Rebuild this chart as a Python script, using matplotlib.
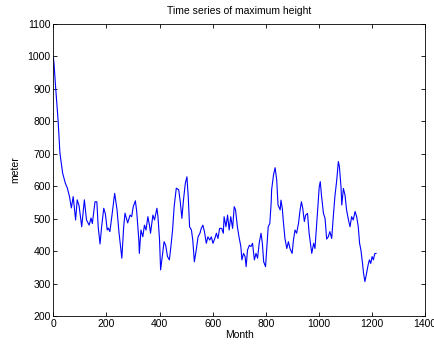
import numpy as np
import matplotlib
matplotlib.use('Agg')
import matplotlib.pyplot as plt

# Valeurs (mois, hauteur en metres)
mois = [0, 3, 9, 18, 25, 35, 45, 53, 61, 68, 75, 84, 90, 97, 107, 117, 125, 135, 142, 147,
        157, 164, 169, 176, 182, 190, 196, 203, 207, 213, 221, 231, 240, 247, 258, 265, 270,
        280, 289, 295, 301, 309, 314, 322, 324, 330, 337, 343, 349, 356, 362, 366, 375, 381,
        390, 394, 400, 404, 410, 417, 423, 430, 437, 444, 449, 455, 463, 472, 478, 484, 490,
        497, 503, 508, 513, 520, 525, 531, 538, 545, 552, 557, 563, 569, 576, 582, 589, 595,
        601, 608, 614, 620, 626, 634, 640, 643, 650, 656, 662, 668, 675, 681, 686, 693, 699,
        706, 710, 716, 722, 726, 731, 738, 744, 750, 757, 763, 769, 775, 782, 787, 792, 799,
        805, 809, 815, 820, 822, 829, 835, 841, 846, 854, 857, 862, 866, 872, 879, 885, 891,
        899, 904, 910, 916, 923, 929, 934, 939, 945, 950, 957, 963, 968, 973, 980, 985, 990,
        996, 1001, 1005, 1010, 1017, 1023, 1029, 1035, 1041, 1048, 1054, 1060, 1067, 1073,
        1077, 1083, 1086, 1092, 1098, 1104, 1111, 1117, 1123, 1129, 1136, 1142, 1148, 1153,
        1158, 1164, 1168, 1173, 1178, 1185, 1190, 1195, 1200, 1205, 1210, 1215]
hauteur = [1000, 975, 902, 804, 702, 641, 610, 594, 568, 533, 568, 496, 558, 540, 475, 558, 496,
           480, 502, 485, 552, 552, 475, 422, 475, 532, 515, 465, 471, 460, 511, 578, 527, 460,
           378, 475, 517, 487, 511, 506, 537, 555, 522, 434, 393, 465, 444, 480, 465, 506, 480,
           455, 511, 496, 532, 506, 434, 342, 383, 429, 418, 383, 373, 424, 465, 537, 594, 589,
           552, 501, 557, 609, 629, 568, 475, 465, 434, 367, 403, 444, 455, 470, 480, 460, 424,
           444, 434, 444, 424, 439, 455, 439, 470, 470, 455, 506, 475, 511, 465, 506, 470, 537,
           527, 475, 444, 414, 373, 393, 383, 352, 403, 418, 414, 424, 373, 393, 378, 424, 455,
           424, 367, 352, 424, 475, 485, 547, 590, 635, 657, 619, 542, 527, 557, 532, 491, 439,
           408, 429, 408, 393, 434, 465, 455, 485, 527, 552, 532, 491, 511, 516, 455, 424, 393,
           424, 408, 465, 537, 598, 614, 568, 516, 501, 437, 444, 460, 439, 506, 568, 619, 676,
           660, 598, 542, 593, 573, 527, 496, 475, 506, 496, 522, 506, 475, 424, 403, 362, 331,
           306, 326, 357, 373, 362, 383, 373, 392, 393]

plt.rcParams['font.family'] = ['Liberation Sans', 'DejaVu Sans']
plt.rcParams['font.size'] = 7.5

fig = plt.figure(figsize=(4.35, 3.49), dpi=100)
ax = fig.add_axes([0.1225, 0.0946, 0.855, 0.8367])
ax.plot(mois, hauteur, color='#0000ff', linewidth=0.8)

ax.set_xlim(0, 1400)
ax.set_ylim(200, 1100)
ax.set_xticks(np.arange(0, 1401, 200))
ax.set_yticks(np.arange(200, 1101, 100))
ax.tick_params(direction='in', top=True, right=True, length=3, width=0.6, pad=2)
for sp in ax.spines.values():
    sp.set_linewidth(0.6)

ax.set_title('Time series of maximum height', fontsize=7.5, pad=7)
ax.set_xlabel('Month', labelpad=1)
ax.set_ylabel('meter', labelpad=5)

fig.savefig('out.png', dpi=100)
